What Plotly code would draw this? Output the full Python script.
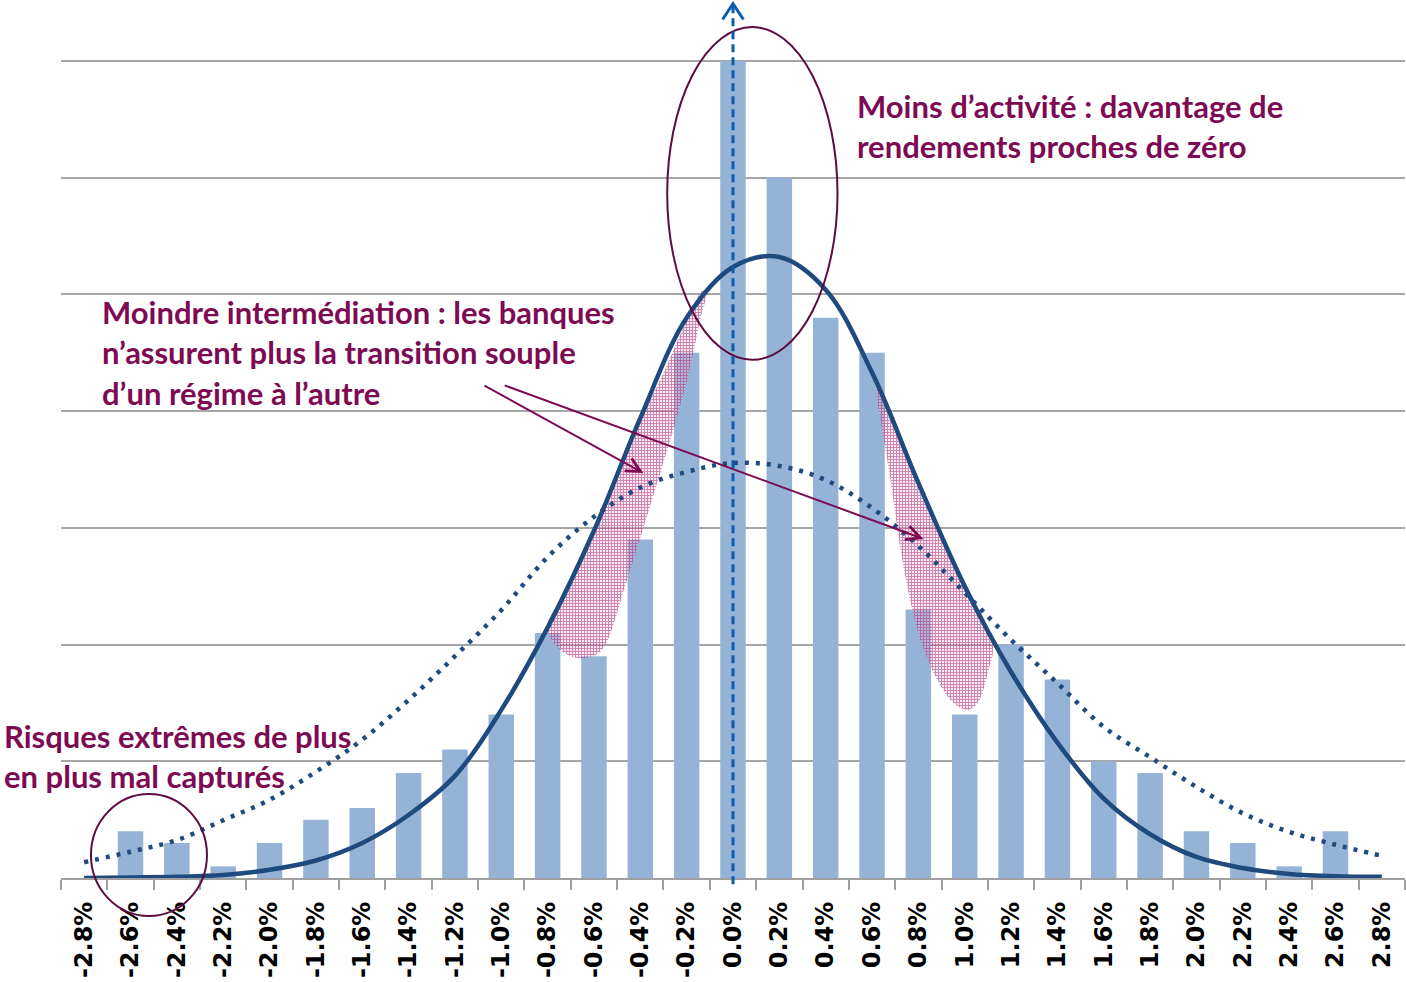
import plotly.graph_objects as go

# x categories (daily returns) and their tick labels
returns = [-2.8, -2.6, -2.4, -2.2, -2.0, -1.8, -1.6, -1.4, -1.2, -1.0, -0.8, -0.6, -0.4, -0.2,
           0.0, 0.2, 0.4, 0.6, 0.8, 1.0, 1.2, 1.4, 1.6, 1.8, 2.0, 2.2, 2.4, 2.6, 2.8]
tick_labels = ["-2.8%", "-2.6%", "-2.4%", "-2.2%", "-2.0%", "-1.8%", "-1.6%", "-1.4%", "-1.2%",
               "-1.0%", "-0.8%", "-0.6%", "-0.4%", "-0.2%", "0.0%", "0.2%", "0.4%", "0.6%",
               "0.8%", "1.0%", "1.2%", "1.4%", "1.6%", "1.8%", "2.0%", "2.2%", "2.4%", "2.6%", "2.8%"]

# observed frequencies (bars)
frequency = [0, 8, 6, 2, 6, 10, 12, 18, 22, 28, 42, 38, 58, 90,
             140, 120, 96, 90, 46, 28, 40, 34, 20, 18, 8, 6, 2, 8, 0]

# fitted distribution, recent period (solid)
fit_recent = [0.0, 0.1, 0.2, 0.5, 1.4, 3.0, 6.0, 10.8, 17.5, 28.8, 42.9, 59.5, 78.8, 96.0,
              104.7, 106.4, 100.8, 86.6, 67.7, 50.0, 35.3, 23.2, 13.6, 7.5, 3.6, 1.7, 0.7, 0.3, 0.2]

# fitted distribution, earlier period (dotted)
fit_before = [2.7, 4.5, 6.5, 9.9, 13.4, 18.2, 23.7, 30.5, 38.0, 45.9, 55.0, 61.9, 66.9, 69.6,
              71.1, 70.6, 68.2, 63.4, 56.9, 48.9, 40.8, 33.4, 25.9, 20.7, 15.6, 11.1, 7.9, 5.7, 3.8]

# outlines of the two hatched zones (data coords)
hatch_left_x = [-0.128, -0.314, -0.431, -0.573, -0.703, -0.802, -0.746, -0.673, -0.595, -0.552,
                -0.457, -0.314, -0.258, -0.198, -0.142, -0.115, -0.128]
hatch_left_y = [100.8, 85.3, 76.3, 61.3, 49.9, 43.0, 39.1, 37.7, 38.2, 39.9,
                51.1, 69.4, 76.8, 85.3, 95.6, 100.4, 100.8]
hatch_right_x = [0.619, 0.680, 0.736, 0.809, 0.883, 0.952, 1.013, 1.056, 1.099, 1.121,
                 1.013, 0.883, 0.723, 0.636, 0.619]
hatch_right_y = [84.0, 68.2, 53.3, 40.8, 33.9, 30.0, 28.8, 30.0, 35.1, 39.9,
                 48.8, 60.8, 74.5, 82.8, 84.0]

BAR = "#95b3d7"
NAVY = "#1f4a7e"
PLUM = "#7d0a52"
RING = "#5e0b40"
BLUE = "#0b5cad"

fig = go.Figure()

fig.add_trace(go.Bar(x=returns, y=frequency, marker=dict(color=BAR, line=dict(width=0))))

for hx, hy in [(hatch_left_x, hatch_left_y), (hatch_right_x, hatch_right_y)]:
    fig.add_trace(go.Scatter(
        x=hx, y=hy, mode="lines", fill="toself",
        line=dict(width=0, shape="spline", color="rgba(0,0,0,0)"),
        fillcolor="rgba(0,0,0,0)",
        fillpattern=dict(shape="+", fgcolor="#a51f6e", bgcolor="rgba(240,200,225,0.35)",
                         size=3, solidity=0.55),
        hoverinfo="skip"))

fig.add_trace(go.Scatter(x=returns, y=fit_before, mode="lines",
                         line=dict(color=NAVY, width=4.5, dash="4px,7px", shape="spline")))
fig.add_trace(go.Scatter(x=returns, y=fit_recent, mode="lines",
                         line=dict(color=NAVY, width=4.5, shape="spline")))

# tick marks sit on category boundaries
boundaries = [r - 0.1 for r in returns] + [returns[-1] + 0.1]

fig.update_layout(
    width=1406, height=982,
    margin=dict(l=61, r=1, t=2, b=104),
    paper_bgcolor="white", plot_bgcolor="white",
    showlegend=False, bargap=0.45,
    xaxis=dict(range=[-2.9, 2.9], tickmode="array", tickvals=returns, ticktext=tick_labels,
               tickangle=-90, ticks="", ticklabelstandoff=12,
               tickfont=dict(family="DejaVu Sans", size=24, color="black", weight="bold"),
               showgrid=False, zeroline=False, showline=True, linecolor="#a0a0a0", linewidth=2,
               minor=dict(tickmode="array", tickvals=boundaries, ticks="outside",
                          ticklen=10, tickwidth=2, tickcolor="#a0a0a0", showgrid=False)),
    yaxis=dict(range=[0, 150.1], dtick=20, showticklabels=False, ticks="",
               showgrid=True, gridcolor="#a6a6a6", gridwidth=1.5, zeroline=False),
)

# ellipses
fig.add_shape(type="circle", xref="x", yref="y", x0=-0.284, x1=0.451, y0=88.8, y1=145.8,
              line=dict(color=RING, width=2))
fig.add_shape(type="circle", xref="paper", yref="paper", x0=0.0223, x1=0.1086, y0=-0.0434, y1=0.0959,
              line=dict(color=RING, width=2))

# dashed vertical arrow at 0 %
fig.add_shape(type="line", xref="x", yref="paper", x0=0, x1=0, y0=-0.007, y1=0.996,
              line=dict(color=BLUE, width=3, dash="8px,5px"))
fig.add_shape(type="path", xref="x", yref="paper", path="M -0.045,0.98 L 0,0.998 L 0.045,0.98",
              line=dict(color=BLUE, width=3))

# arrows from the middle comment
for hx, hy, tx, ty in [(-0.387, 69.4, -1.079, 84.5), (0.822, 58.1, -0.992, 84.5)]:
    fig.add_annotation(x=hx, y=hy, ax=tx, ay=ty, xref="x", yref="y", axref="x", ayref="y",
                       text="", showarrow=True, arrowhead=5, arrowsize=1.4, arrowwidth=2,
                       arrowcolor=PLUM, standoff=0)

notes = [
    (100, 90.0, "Moindre intermédiation : les banques<br>n’assurent plus la transition souple<br>d’un régime à l’autre"),
    (855, 128.9, "Moins d’activité : davantage de<br>rendements proches de zéro"),
    (2, 20.9, "Risques extrêmes de plus<br>en plus mal capturés"),
]
for px, yv, txt in notes:
    fig.add_annotation(x=(px - 61) / 1344, y=yv, xref="paper", yref="y", text="<b>" + txt + "</b>",
                       showarrow=False, xanchor="left", yanchor="middle", align="left",
                       font=dict(family="Lato", size=31, color=PLUM))

fig.write_html("out.html", config={"displayModeBar": False},
               post_script="document.body.style.margin='0';")
